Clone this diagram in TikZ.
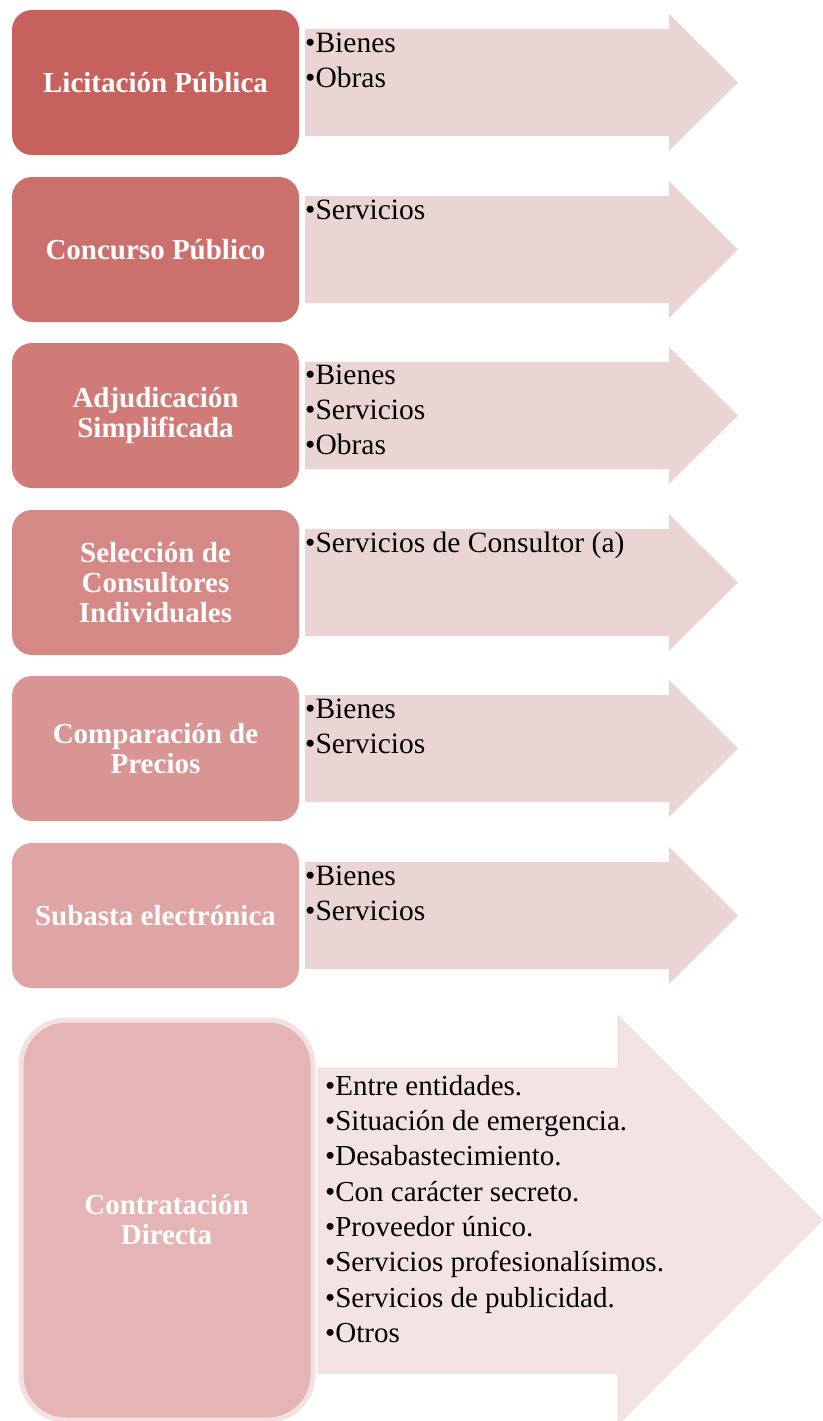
\documentclass[tikz,border=0pt]{standalone}
\usepackage{fontspec}
\setmainfont{Liberation Serif}

\definecolor{procA}{HTML}{C6615D}
\definecolor{procB}{HTML}{CB706D}
\definecolor{procC}{HTML}{D07B78}
\definecolor{procD}{HTML}{D58986}
\definecolor{procE}{HTML}{D99593}
\definecolor{procF}{HTML}{DFA5A4}
\definecolor{procG}{HTML}{E5B5B5}
\definecolor{listfill}{HTML}{EAD4D4}
\definecolor{lastfill}{HTML}{F4E3E3}
\definecolor{lastedge}{HTML}{EFD9D9}
\definecolor{lastrim}{HTML}{F3E0E0}

% fixed height of the first list line (25pt above its baseline)
\newcommand{\listtop}{\rule{0pt}{25pt}}

\begin{document}
\begin{tikzpicture}[x=1pt,y=-1pt,
    proc/.style={white,font=\fontsize{29}{30}\selectfont\bfseries,align=center},
    items/.style={font=\fontsize{29.5}{35}\selectfont,align=left,anchor=north west,inner sep=0pt}]
      \clip (0,0) rectangle (822,1421);

      % Licitacion Publica
      \fill[procA,rounded corners=20] (12,10) rectangle (299,155);
      \fill[listfill] (305,29) -- (669,29) -- (669,14) -- (738,82.5) -- (669,151) -- (669,136) -- (305,136) -- cycle;
      \node[proc] (licit) at (155.5,82.5) {Licitación Pública};
      \node[items] (licit-list) at (305,27) {\listtop•Bienes\\•Obras};

      % Concurso Publico
      \fill[procB,rounded corners=20] (12,177) rectangle (299,322);
      \fill[listfill] (305,196) -- (669,196) -- (669,181) -- (738,249.5) -- (669,318) -- (669,303) -- (305,303) -- cycle;
      \node[proc] (concurso) at (155.5,249.5) {Concurso Público};
      \node[items] (concurso-list) at (305,194) {\listtop•Servicios};

      % Adjudicacion Simplificada
      \fill[procC,rounded corners=20] (12,343) rectangle (299,488);
      \fill[listfill] (305,362) -- (669,362) -- (669,347) -- (738,415.5) -- (669,484) -- (669,469) -- (305,469) -- cycle;
      \node[proc] (adjud) at (155.5,415.5) {Adjudicación\\Simplificada};
      \node[items] (adjud-list) at (305,359) {\listtop•Bienes\\•Servicios\\•Obras};

      % Seleccion de Consultores Individuales
      \fill[procD,rounded corners=20] (12,510) rectangle (299,655);
      \fill[listfill] (305,529) -- (669,529) -- (669,514) -- (738,582.5) -- (669,651) -- (669,636) -- (305,636) -- cycle;
      \node[proc] (selec) at (155.5,582.5) {Selección de\\Consultores\\Individuales};
      \node[items] (selec-list) at (305,527) {\listtop•Servicios de Consultor (a)};

      % Comparacion de Precios
      \fill[procE,rounded corners=20] (12,676) rectangle (299,821);
      \fill[listfill] (305,695) -- (669,695) -- (669,680) -- (738,748.5) -- (669,817) -- (669,802) -- (305,802) -- cycle;
      \node[proc] (compar) at (155.5,748.5) {Comparación de\\Precios};
      \node[items] (compar-list) at (305,693) {\listtop•Bienes\\•Servicios};

      % Subasta electronica
      \fill[procF,rounded corners=20] (12,843) rectangle (299,988);
      \fill[listfill] (305,862) -- (669,862) -- (669,847) -- (738,915.5) -- (669,984) -- (669,969) -- (305,969) -- cycle;
      \node[proc] (subasta) at (155.5,915.5) {Subasta electrónica};
      \node[items] (subasta-list) at (305,860) {\listtop•Bienes\\•Servicios};

      % Contratacion Directa (taller, runs off the page)
      \filldraw[fill=procG,draw=lastrim,line width=5,rounded corners=45] (21,1020) rectangle (313,1420);
      \filldraw[fill=lastfill,draw=lastedge,line width=1] (318,1068) -- (618,1068) -- (618,1016) -- (822,1220) -- (618,1424) -- (618,1373) -- (318,1373) -- cycle;
      \node[proc] (contrat) at (166.5,1220) {Contratación\\Directa};
      \node[items,font=\fontsize{29}{35.3}\selectfont] (contrat-list) at (325,1070)
        {\listtop•Entre entidades.\\•Situación de emergencia.\\•Desabastecimiento.\\•Con carácter secreto.\\•Proveedor único.\\•Servicios profesionalísimos.\\•Servicios de publicidad.\\•Otros};

    \end{tikzpicture}
\end{document}
